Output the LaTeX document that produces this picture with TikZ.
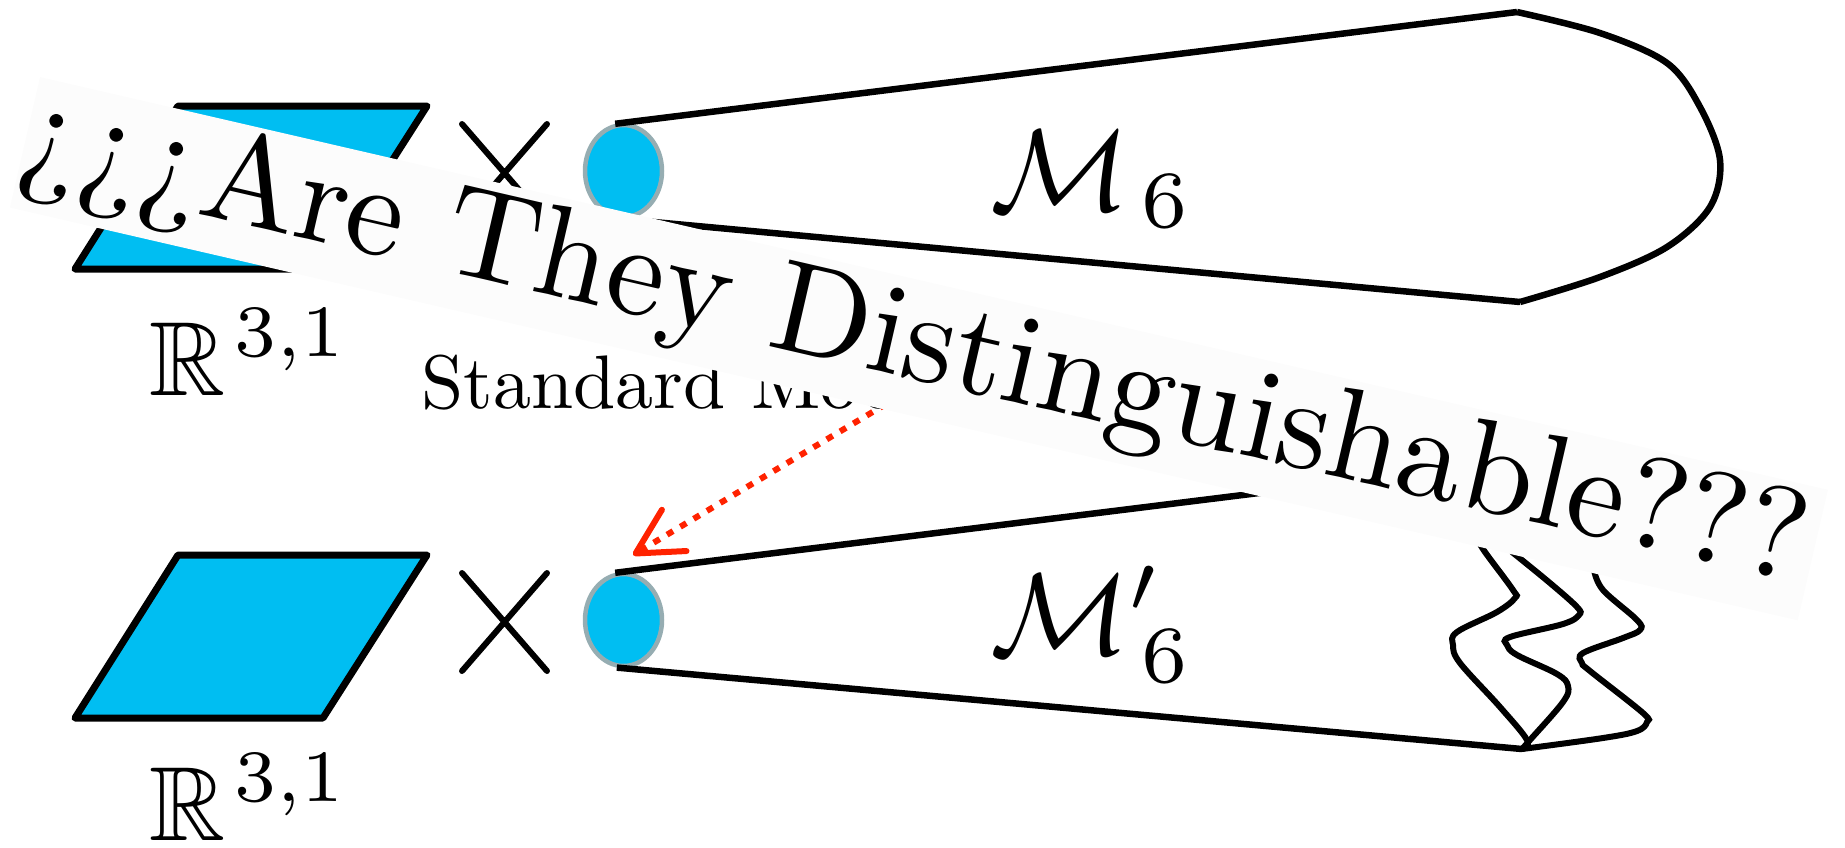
\RequirePackage{fix-cm}
\documentclass[tikz,border=0pt]{standalone}
\usepackage{amsmath,amssymb}
\usepackage{fontspec}
\usetikzlibrary{arrows.meta,shapes.geometric,positioning}
\definecolor{fibcyan}{HTML}{00BEF2}
\definecolor{fibgray}{HTML}{96ADB2}
\definecolor{arrred}{HTML}{FF2200}
\definecolor{bannerw}{HTML}{FCFCFC}
\tikzset{
  % Raum und Faser
  plane/.style={draw=black,fill=fibcyan,line width=0.7mm,line join=round},
  cross/.style={draw=black,line width=0.6mm,line cap=round},
  fiber/.style={ellipse,draw=fibgray,fill=fibcyan,line width=0.45mm,inner sep=0pt,
                minimum width=7.7mm,minimum height=9.2mm},
  edge/.style={draw=black,line width=0.65mm,line join=round},
  wig/.style={draw=black,line width=0.6mm,line cap=round},
  lbl/.style={inner sep=0pt,anchor=base west},
  % Pfeil und Banner
  hint/.style={-{Straight Barb[length=4.5mm,width=4.8mm,round]},draw=arrred,line width=0.6mm,
               dash pattern=on 0.7mm off 0.85mm},
  banner/.style={fill=bannerw,draw=none},
  bantext/.style={inner sep=0pt,anchor=base west,rotate=-13},
}
\newcommand{\upsz}[2]{\scalebox{#1}{#2}}
\begin{document}
\begin{tikzpicture}[x=0.1mm,y=-0.1mm]
\useasboundingbox (0,0) rectangle (1845,847);
  % obere Zeile
  \draw[plane] (178,106) -- (427,106) -- (323,269) -- (75,269) -- cycle;
  \draw[cross] (462,124) -- (547,222) (547,124) -- (462,222);
  \node[fiber] (f1) at (623.5,171) {};
  \coordinate (t1) at (1517,12);
  \coordinate (b1) at (1520,302);
  \draw[edge] (f1.100) -- (t1);
  \draw[edge] (f1.262) -- (b1);
  \draw[edge] plot[smooth,tension=0.55] coordinates {(t1) (1600,33) (1667,63) (1700,107)
    (1720,160) (1710,207) (1667,247) (1600,277) (b1)};
  \node[lbl] (r1) at (149,395) {\upsz{3}{$\mathbb{R}^{\kern0.8pt 3,1}$}};
  \node[lbl] (m1) at (990,210) {\upsz{3.3}{$\mathcal{M}_{\kern1pt 6}$}};
  \node[lbl] (sm) at (421,408) {\upsz{2.16}{Standard Model}};
  % untere Zeile
  \draw[plane] (178,555) -- (427,555) -- (323,718) -- (75,718) -- cycle;
  \draw[cross] (462,573) -- (547,671) (547,573) -- (462,671);
  \node[fiber] (f2) at (623.5,620) {};
  \coordinate (t2) at (1517,461);
  \coordinate (b2) at (1522,749);
  \draw[edge] (f2.100) -- (t2);
  \draw[edge] (f2.262) -- (b2);
  \draw[wig] plot[smooth,tension=0.6] coordinates {(1478,540) (1485,552) (1513,590) (1515,598)
    (1497,612) (1457,632) (1453,645) (1460,663) (1500,707) (1527,740) (b2)};
  \draw[wig] plot[smooth,tension=0.6] coordinates {(1512,552) (1550,583) (1577,607) (1579,615)
    (1563,624) (1510,637) (1507,645) (1517,655) (1557,674) (1568,686) (1563,702) (1530,740) (b2)};
  \draw[wig] plot[smooth,tension=0.6] coordinates {(1594,570) (1603,590) (1637,620) (1640,630)
    (1623,638) (1583,653) (1582,663) (1590,671) (1643,713) (1647,722) (1637,731) (1603,738) (b2)};
  \node[lbl] (r2) at (149,840) {\upsz{3}{$\mathbb{R}^{\kern0.8pt 3,1}$}};
  \node[lbl] (m2) at (990,654) {\upsz{3.3}{$\mathcal{M}'_{\kern1pt 6}$}};
  % Pfeil
  \coordinate (hs) at (886,404);
  \coordinate (ht) at (633,555);
  \draw[hint] (hs) -- (ht);
  % Banner
  \begin{scope}[shift={(40,77)},rotate=-13]
    \fill[banner] (0,0) rectangle (1835,134);
    \node[bantext] (q) at (-3,98) {\upsz{3.7}{¿¿¿Are They Distinguishable???}};
  \end{scope}
\end{tikzpicture}
\end{document}
